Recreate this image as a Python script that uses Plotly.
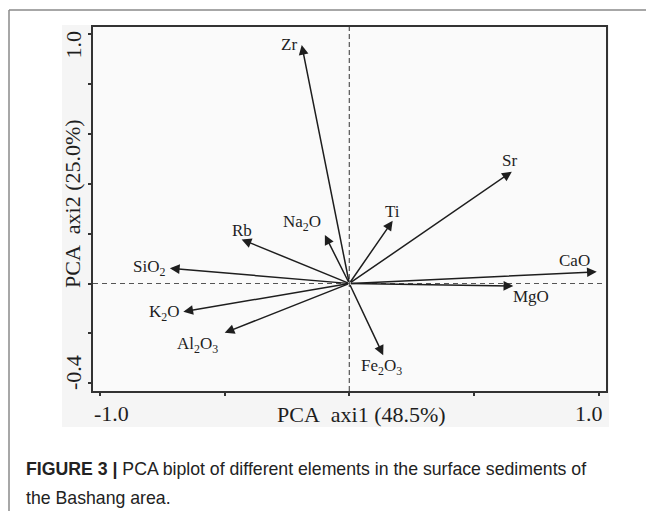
import plotly.graph_objects as go

# ---- data ----
VARIABLES = ["Zr", "Sr", "CaO", "MgO", "Fe2O3", "Ti", "Na2O", "Rb", "SiO2", "K2O", "Al2O3"]
VAR_LABELS = ["Zr", "Sr", "CaO", "MgO", "Fe<sub>2</sub>O<sub>3</sub>", "Ti", "Na<sub>2</sub>O",
              "Rb", "SiO<sub>2</sub>", "K<sub>2</sub>O", "Al<sub>2</sub>O<sub>3</sub>"]
PC1 = [-0.191, 0.652, 0.993, 0.658, 0.136, 0.174, -0.098, -0.432, -0.720, -0.666, -0.500]
PC2 = [0.958, 0.449, 0.047, -0.010, -0.288, 0.252, 0.195, 0.177, 0.061, -0.113, -0.198]

X_TICK_VALS = [-1.0, -0.5, 0.0, 0.5, 1.0]
X_TICK_TEXT = ["-1.0", "", "", "", "1.0"]
Y_TICK_VALS = [-0.4, -0.2, 0.0, 0.2, 0.4, 0.6, 0.8, 1.0]
Y_TICK_TEXT = ["-0.4", "", "", "", "", "", "", "1.0"]

X_TITLE = "PCA\u00a0 axi1 (48.5%)"
Y_TITLE = "PCA\u00a0 axi2 (25.0%)"
CAPTION_BOLD = "FIGURE 3 |"
CAPTION_LINE1 = " PCA biplot of different elements in the surface sediments of"
CAPTION_LINE2 = "the Bashang area."

# ---- layout geometry (pixels, in window coordinates; page body has 8px margin) ----
OFF = 8
W, H = 654 - OFF, 511 - OFF
L, R, T, B = 93, 606, 27, 391
PW, PH = R - L, B - T


def px(xp):
    return (xp - L) / PW


def py(yp):
    return (B - yp) / PH


SERIF = "Liberation Serif"
SANS = "Liberation Sans"
INK = "#1e1e1e"

# label offsets in pixels relative to arrow tips (style, not data)
LABEL_SHIFT = {
    "Zr": (-13, 0), "Sr": (-2, 11), "CaO": (-22, 11), "MgO": (18, -11),
    "Fe2O3": (-2, -12), "Ti": (0, 9), "Na2O": (-23, 12), "Rb": (0, 9),
    "SiO2": (-21, 0), "K2O": (-19, -1), "Al2O3": (-27, -12),
}

fig = go.Figure()
fig.add_trace(go.Scatter(x=[0], y=[0], mode="markers", marker=dict(size=1, opacity=0),
                         hoverinfo="skip", showlegend=False))

shapes = [
    dict(type="rect", xref="paper", yref="paper", x0=px(62), x1=px(609), y0=py(427), y1=py(25),
         fillcolor="#f5f5f5", line=dict(width=0), layer="below"),
    dict(type="rect", xref="paper", yref="paper", x0=0, x1=1, y0=0, y1=1,
         fillcolor="#fafafa", line=dict(width=0), layer="below"),
    dict(type="line", xref="x", yref="paper", x0=0, x1=0, y0=0, y1=1,
         line=dict(color="#555555", width=1.2, dash="5px,3px"), layer="below"),
    dict(type="line", xref="paper", yref="y", x0=0, x1=1, y0=0, y1=0,
         line=dict(color="#555555", width=1.2, dash="5px,4px"), layer="below"),
    dict(type="line", xref="paper", yref="paper", x0=px(9), x1=px(660), y0=py(10), y1=py(10),
         line=dict(color="#8a8a8a", width=1.5)),
    dict(type="line", xref="paper", yref="paper", x0=px(9), x1=px(9), y0=py(10), y1=py(520),
         line=dict(color="#8a8a8a", width=1.5)),
]

annotations = []
for name, lab, vx, vy in zip(VARIABLES, VAR_LABELS, PC1, PC2):
    annotations.append(dict(
        x=vx, y=vy, ax=0, ay=0, xref="x", yref="y", axref="x", ayref="y",
        text="", showarrow=True, arrowhead=2, arrowsize=1.3, arrowwidth=1.5,
        arrowcolor=INK, standoff=0, startstandoff=0))
    sx, sy = LABEL_SHIFT[name]
    annotations.append(dict(
        x=vx, y=vy, xref="x", yref="y", text=lab, showarrow=False,
        xanchor="center", yanchor="middle", xshift=sx, yshift=sy,
        font=dict(family=SERIF, size=17, color=INK)))

x_labelled = [(v, t) for v, t in zip(X_TICK_VALS, X_TICK_TEXT) if t]
for i, (v, t) in enumerate(x_labelled):
    annotations.append(dict(
        x=v, y=0, xref="x", yref="paper", text=t, showarrow=False,
        xanchor="center", yanchor="middle", xshift=11 if i == 0 else -10, yshift=-22,
        font=dict(family=SERIF, size=22, color=INK)))
y_labelled = [(v, t) for v, t in zip(Y_TICK_VALS, Y_TICK_TEXT) if t]
for i, (v, t) in enumerate(y_labelled):
    annotations.append(dict(
        x=0, y=v, xref="paper", yref="y", text=t, showarrow=False, textangle=-90,
        xanchor="center", yanchor="middle", xshift=-20, yshift=10 if i == 0 else -10,
        font=dict(family=SERIF, size=22, color=INK)))

annotations.append(dict(x=px(361), y=py(414), xref="paper", yref="paper", text=X_TITLE,
                        showarrow=False, xanchor="center", yanchor="middle",
                        font=dict(family=SERIF, size=22, color=INK)))
annotations.append(dict(x=px(72), y=py(204), xref="paper", yref="paper", text=Y_TITLE,
                        showarrow=False, xanchor="center", yanchor="middle", textangle=-90,
                        font=dict(family=SERIF, size=22, color=INK)))

annotations.append(dict(x=px(24), y=py(469), xref="paper", yref="paper",
                        text="<b>" + CAPTION_BOLD + "</b>" + CAPTION_LINE1,
                        showarrow=False, xanchor="left", yanchor="middle",
                        font=dict(family=SANS, size=17.7, color="#222222")))
annotations.append(dict(x=px(24), y=py(498), xref="paper", yref="paper", text=CAPTION_LINE2,
                        showarrow=False, xanchor="left", yanchor="middle",
                        font=dict(family=SANS, size=17.7, color="#222222")))

axis_common = dict(showgrid=False, zeroline=False, showline=True, linecolor="#333333",
                   linewidth=1.5, mirror=True, ticks="outside", ticklen=3, tickwidth=1.5,
                   tickcolor="#333333", showticklabels=False, fixedrange=True)

fig.update_layout(
    width=W, height=H, autosize=False,
    margin=dict(l=L - OFF, r=(W + OFF) - R, t=T - OFF, b=(H + OFF) - B, pad=0),
    paper_bgcolor="white", plot_bgcolor="rgba(0,0,0,0)",
    xaxis=dict(range=[-1.0285, 1.030], tickvals=X_TICK_VALS, **axis_common),
    yaxis=dict(range=[-0.4317, 1.030], tickvals=Y_TICK_VALS, **axis_common),
    shapes=shapes, annotations=annotations, showlegend=False,
)

fig.write_html("out.html")
